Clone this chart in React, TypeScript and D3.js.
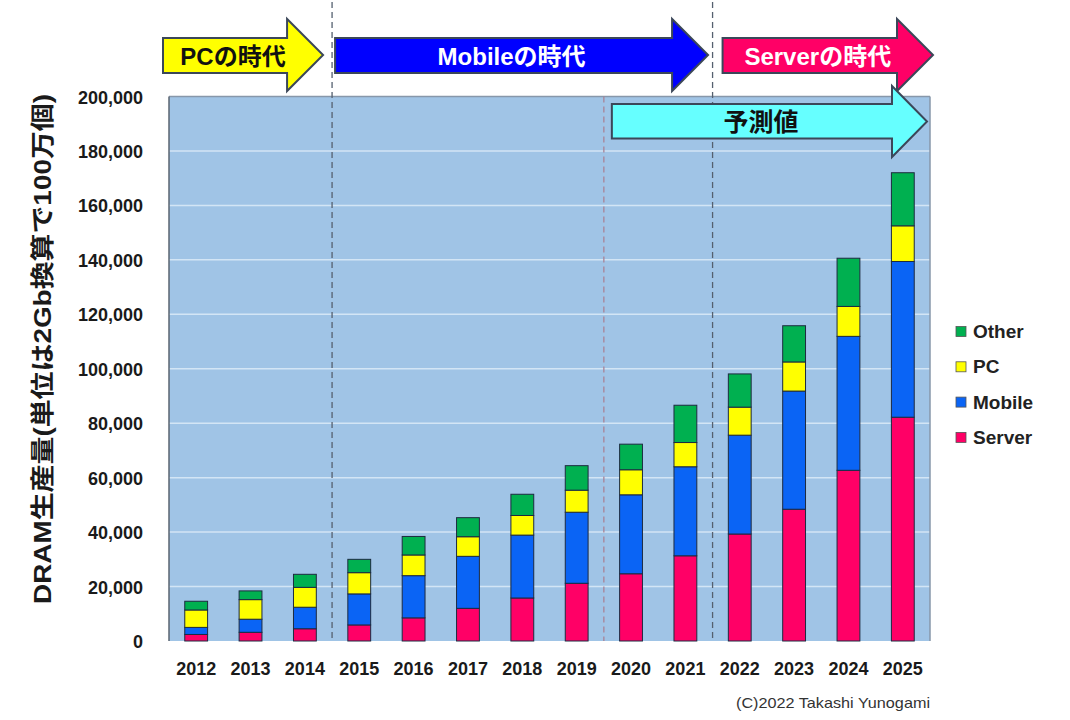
import React from 'react';
import * as d3 from 'd3';

// DRAM production by application, in millions of 2Gb-equivalent units
const years = ['2012', '2013', '2014', '2015', '2016', '2017', '2018', '2019', '2020', '2021', '2022', '2023', '2024', '2025'];
const serverValues = [2400, 3200, 4500, 5900, 8500, 12000, 15800, 21200, 24700, 31300, 39300, 48400, 62700, 82200];
const mobileValues = [2600, 4800, 7900, 11400, 15500, 19100, 23100, 26100, 29000, 32700, 36300, 43400, 49200, 57200];
const pcValues = [6400, 7200, 7300, 7800, 7600, 7200, 7200, 8100, 9200, 8900, 10300, 10700, 11000, 13100];
const otherValues = [3200, 3200, 4800, 4900, 6800, 7000, 7800, 9000, 9400, 13700, 12200, 13300, 17700, 19500];

const seriesKeys = ['Server', 'Mobile', 'PC', 'Other'];
const seriesColors: Record<string, string> = {
  Server: '#ff0066',
  Mobile: '#0a64f5',
  PC: '#ffff00',
  Other: '#00b050',
};
const legendOrder = ['Other', 'PC', 'Mobile', 'Server'];

const yTicks = [0, 20000, 40000, 60000, 80000, 100000, 120000, 140000, 160000, 180000, 200000];

// Eras shown as arrows above the plot: [start boundary index, end boundary index]
const eraLabels = ['PCの時代', 'Mobileの時代', 'Serverの時代'];
const eraRanges = [[0, 3], [3, 10], [10, 14]];
const eraFills = ['#ffff00', '#0000ff', '#ff0066'];
const eraTextColors = ['#111', '#fff', '#fff'];
const forecastLabel = '予測値';
const forecastStart = 8;

const W = 1070;
const H = 720;
const plot = { left: 169, right: 930, top: 96.5, bottom: 641 };

const latin = '"Liberation Sans", Arial, "Noto Sans CJK JP", sans-serif';

function arrowPath(x0: number, tip: number, headLen: number, by0: number, by1: number, hy0: number, hy1: number) {
  const hs = tip - headLen;
  const cy = (hy0 + hy1) / 2;
  return `M${x0},${by0} L${hs},${by0} L${hs},${hy0} L${tip},${cy} L${hs},${hy1} L${hs},${by1} L${x0},${by1} Z`;
}

export default function App() {
  const x = d3.scaleBand<string>().domain(years).range([plot.left, plot.right]).paddingInner(0.58).paddingOuter(0.29);
  const step = x.step();
  const boundary = (i: number) => plot.left + step * i;
  const y = d3.scaleLinear().domain([0, 200000]).range([plot.bottom, plot.top]);

  const rows = years.map((yr, i) => ({
    year: yr,
    Server: serverValues[i],
    Mobile: mobileValues[i],
    PC: pcValues[i],
    Other: otherValues[i],
  }));
  const stacked = d3.stack<any>().keys(seriesKeys)(rows);
  const fmt = d3.format(',');

  const arrowStroke = '#3b4759';

  return (
    <svg width={W} height={H} style={{ position: 'absolute', left: 0, top: 0, background: '#fff' }}>
      {/* plot background */}
      <rect x={plot.left} y={plot.top} width={plot.right - plot.left} height={plot.bottom - plot.top} fill="#a0c4e6" />
      {/* gridlines */}
      {yTicks.filter((t) => t > 0 && t < 200000).map((t) => (
        <line key={t} x1={plot.left} x2={plot.right} y1={y(t)} y2={y(t)} stroke="#d3e5f5" strokeWidth={1.5} />
      ))}
      <line x1={plot.left} x2={plot.right} y1={plot.top} y2={plot.top} stroke="#8797aa" strokeWidth={1.5} />
      <line x1={plot.right} x2={plot.right} y1={plot.top} y2={plot.bottom} stroke="#8797aa" strokeWidth={1.5} />
      <line x1={plot.left} x2={plot.left} y1={plot.top} y2={plot.bottom} stroke="#5a6470" strokeWidth={1.5} />

      {/* era dividers */}
      {[3, 10].map((i) => (
        <line key={i} x1={boundary(i)} x2={boundary(i)} y1={2} y2={plot.bottom} stroke="#55606f" strokeWidth={1.3} strokeDasharray="6,4" />
      ))}
      <line x1={boundary(forecastStart)} x2={boundary(forecastStart)} y1={plot.top} y2={plot.bottom} stroke="#a88396" strokeWidth={1.3} strokeDasharray="6,4" />

      {/* stacked bars */}
      {stacked.map((layer) => (
        <g key={layer.key} fill={seriesColors[layer.key]}>
          {layer.map((d, i) => (
            <rect
              key={years[i]}
              x={x(years[i])}
              width={x.bandwidth()}
              y={y(d[1])}
              height={y(d[0]) - y(d[1])}
              stroke="#1d2a40"
              strokeWidth={1}
            />
          ))}
        </g>
      ))}

      {/* era arrows */}
      {eraLabels.map((label, k) => {
        const [a, b] = eraRanges[k];
        const x0 = k === 0 ? boundary(a) - 6 : k === 1 ? boundary(a) + 3 : boundary(a) + 10;
        const tip = k === 0 ? boundary(b) - 9 : k === 1 ? boundary(b) - 4.5 : boundary(b) + 3;
        const headLen = 36;
        const cx = (x0 + tip - headLen) / 2 + 8;
        return (
          <g key={label}>
            <path d={arrowPath(x0, tip, headLen, 38, 73, 19, 91)} fill={eraFills[k]} stroke={arrowStroke} strokeWidth={2} strokeLinejoin="miter" />
            <text x={cx} y={56} textAnchor="middle" dominantBaseline="central" fontFamily={latin} fontWeight="bold" fontSize={24} fill={eraTextColors[k]}>
              {label}
            </text>
          </g>
        );
      })}

      {/* forecast arrow */}
      {(() => {
        const x0 = boundary(forecastStart) + 8;
        const tip = boundary(14) - 3;
        const headLen = 35;
        const cx = (x0 + tip - headLen) / 2 + 9;
        return (
          <g>
            <path d={arrowPath(x0, tip, headLen, 104, 138.5, 86, 157)} fill="#66ffff" stroke={arrowStroke} strokeWidth={2} />
            <text x={cx} y={122} textAnchor="middle" dominantBaseline="central" fontFamily={latin} fontWeight="bold" fontSize={25} fill="#111">
              {forecastLabel}
            </text>
          </g>
        );
      })()}

      {/* y tick labels */}
      {yTicks.map((t) => (
        <text key={t} x={143} y={y(t) + 1} textAnchor="end" dominantBaseline="central" fontFamily={latin} fontWeight="bold" fontSize={18} fill="#1a1a1a">
          {fmt(t)}
        </text>
      ))}

      {/* x tick labels */}
      {years.map((yr) => (
        <text key={yr} x={(x(yr) as number) + x.bandwidth() / 2} y={669} textAnchor="middle" dominantBaseline="central" fontFamily={latin} fontWeight="bold" fontSize={18} fill="#1a1a1a">
          {yr}
        </text>
      ))}

      {/* y axis title */}
      <text
        transform="translate(42,349) rotate(-90)"
        textAnchor="middle"
        dominantBaseline="central"
        fontFamily={latin}
        fontWeight="bold"
        fontSize={24}
        fill="#1a1a1a"
        textLength={510}
        lengthAdjust="spacingAndGlyphs"
      >
        DRAM生産量(単位は2Gb換算で100万個)
      </text>

      {/* legend */}
      {legendOrder.map((key, i) => {
        const cy = 331.5 + i * 35.3;
        return (
          <g key={key}>
            <rect x={956} y={cy - 5} width={10} height={10} fill={seriesColors[key]} stroke="#555" strokeWidth={0.8} />
            <text x={973} y={cy} dominantBaseline="central" fontFamily={latin} fontWeight="bold" fontSize={19} fill="#222">
              {key}
            </text>
          </g>
        );
      })}

      {/* credit */}
      <text x={736} y={702} dominantBaseline="central" fontFamily={latin} fontSize={15} fill="#333" textLength={194} lengthAdjust="spacingAndGlyphs">
        (C)2022 Takashi Yunogami
      </text>
    </svg>
  );
}
